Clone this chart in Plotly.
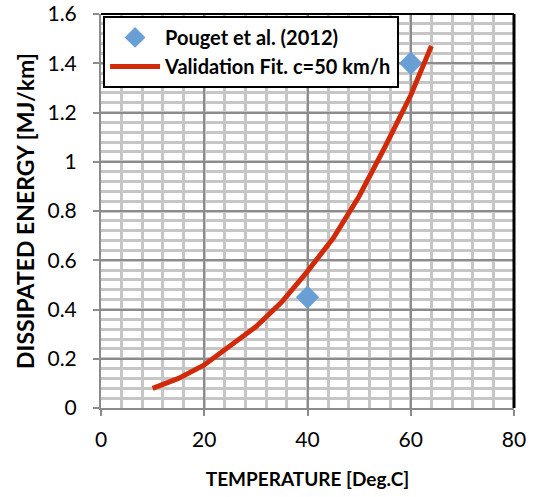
import plotly.graph_objects as go

obs_x = [40, 60]
obs_y = [0.45, 1.40]
fit_x = [10, 15, 20, 25, 30, 35, 40, 45, 50, 55, 60, 64]
fit_y = [0.08, 0.12, 0.175, 0.25, 0.33, 0.43, 0.555, 0.69, 0.86, 1.06, 1.27, 1.47]

FONT = "Lato"
fig = go.Figure()
fig.add_trace(go.Scatter(x=obs_x, y=obs_y, mode="markers", name="Pouget et al. (2012)",
                         marker=dict(symbol="diamond", size=18, color="#6a9fd5")))
fig.add_trace(go.Scatter(x=fit_x, y=fit_y, mode="lines", name="Validation Fit. c=50 km/h",
                         line=dict(color="#d12a0a", width=5)))

fig.update_layout(
    width=533, height=497,
    margin=dict(l=101, r=19, t=14, b=89, autoexpand=False),
    paper_bgcolor="white", plot_bgcolor="white",
    font=dict(family=FONT, color="black", size=21),
    legend=dict(x=0.005, y=0.995, xanchor="left", yanchor="top", bgcolor="white",
                bordercolor="black", borderwidth=2,
                font=dict(family=FONT, size=20, color="black", weight="bold"),
                tracegroupgap=0, itemwidth=50),
    xaxis=dict(range=[0, 80], tickvals=[0, 20, 40, 60, 80], showline=True, linecolor="#8c8c8c",
               linewidth=2, ticks="outside", tickcolor="#8c8c8c", ticklen=6, tickwidth=2,
               ticklabelstandoff=6, automargin=False,
               showgrid=True, gridcolor="#8c8c8c", gridwidth=2, zeroline=False,
               minor=dict(dtick=4, showgrid=True, gridcolor="#c6c6c6", gridwidth=2.5),
               title=dict(text="TEMPERATURE [Deg.C]", font=dict(size=19, weight="bold"), standoff=22)),
    yaxis=dict(range=[0, 1.6], tickvals=[0, 0.2, 0.4, 0.6, 0.8, 1, 1.2, 1.4, 1.6],
               ticktext=["0", "0.2", "0.4", "0.6", "0.8", "1", "1.2", "1.4", "1.6"],
               showline=True, linecolor="#8c8c8c", linewidth=2, ticks="outside",
               tickcolor="#8c8c8c", ticklen=6, tickwidth=2, ticklabelstandoff=12, automargin=False,
               showgrid=True, gridcolor="#8c8c8c", gridwidth=2, zeroline=False,
               minor=dict(dtick=0.04, showgrid=True, gridcolor="#c6c6c6", gridwidth=2.5),
               title=dict(text="DISSIPATED ENERGY [MJ/km]", font=dict(size=23, weight="bold"), standoff=6)),
)
fig.add_shape(type="line", xref="paper", yref="paper", x0=0, x1=1, y0=1, y1=1,
              line=dict(color="black", width=2))
fig.add_shape(type="line", xref="paper", yref="paper", x0=1, x1=1, y0=0, y1=1,
              line=dict(color="black", width=3))
fig.write_html("out.html")
